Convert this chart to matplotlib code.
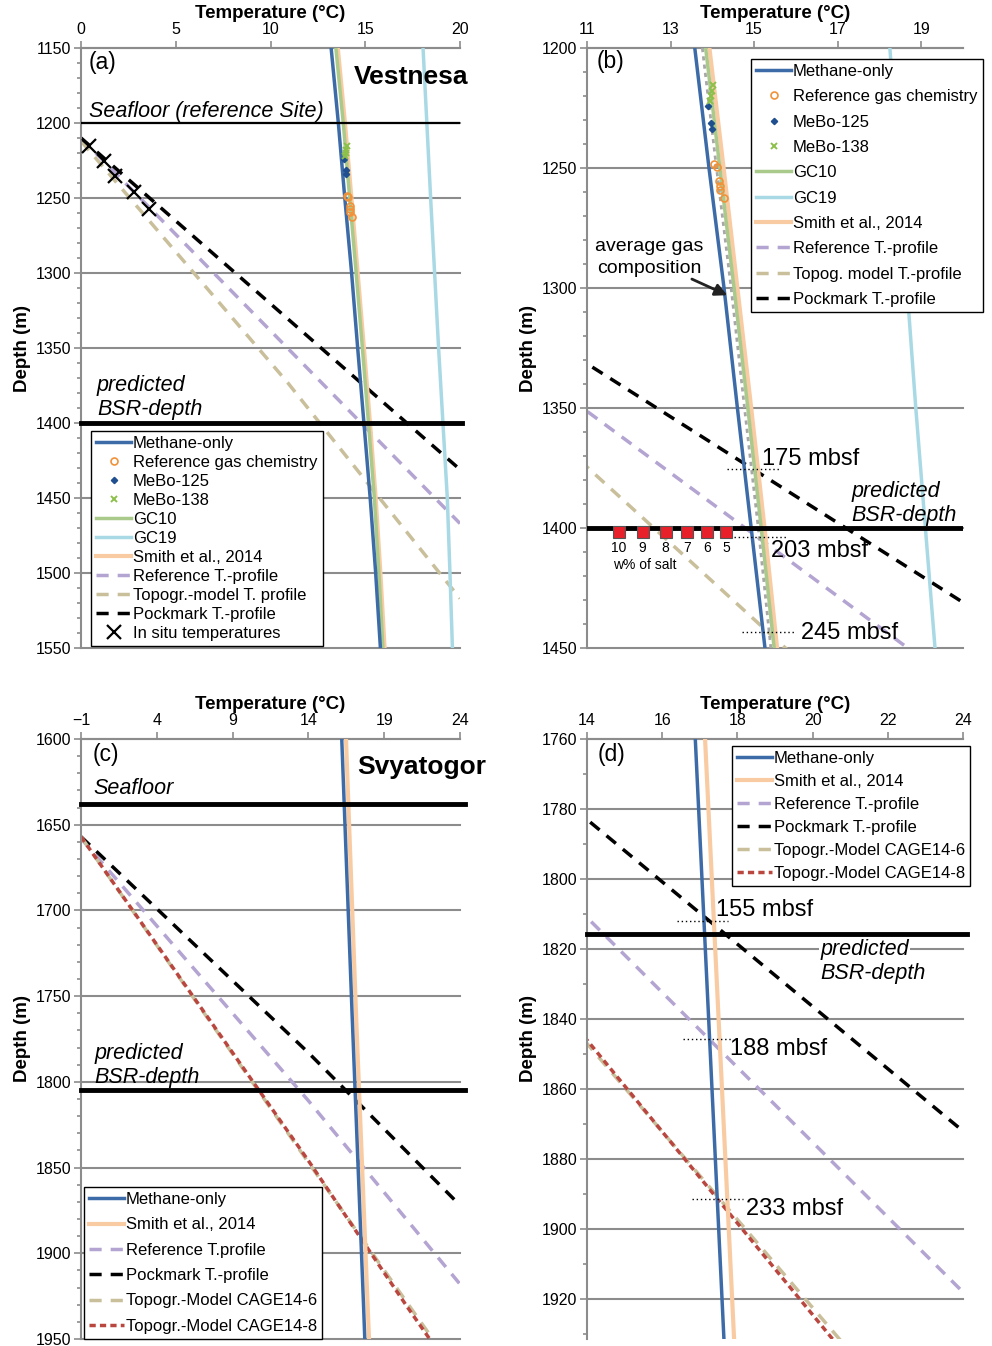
import matplotlib
matplotlib.use('Agg')
import matplotlib.pyplot as plt
from matplotlib.ticker import MultipleLocator

plt.rcParams['font.family'] = ['Liberation Sans', 'DejaVu Sans']

# ---- Vestnesa: hydrate stability curves (depth in m, temperature in degC)
v_depth = [1150, 1200, 1250, 1300, 1350, 1400, 1450, 1500, 1550]
v_methane = [13.2, 13.58, 13.92, 14.28, 14.6, 14.93, 15.26, 15.55, 15.8]
v_gc10 = [13.45, 13.84, 14.18, 14.52, 14.85, 15.17, 15.48, 15.72, 15.93]
v_smith = [13.55, 13.93, 14.27, 14.6, 14.93, 15.25, 15.55, 15.8, 16.02]
v_gc19 = [18.05, 18.25, 18.45, 18.66, 18.87, 19.1, 19.33, 19.47, 19.6]
v_avg_depth = [1200, 1250, 1300, 1350, 1400, 1450]
v_avg = [13.76, 14.1, 14.45, 14.77, 15.1, 15.4]

# Vestnesa temperature profiles
v_ref_depth = [1210, 1467]
v_ref_T = [0, 20]
v_topo_depth = [1212, 1373, 1450, 1517]
v_topo_T = [0, 10.9, 15.75, 20]
v_pock_depth = [1210, 1431]
v_pock_T = [0, 20]

# point data
refgas_T = [14.05, 14.1, 14.17, 14.18, 14.19, 14.29]
refgas_depth = [1248.5, 1249.5, 1255.5, 1257.5, 1259, 1262.5]
mebo125_T = [13.9, 13.98, 14.0]
mebo125_depth = [1224, 1231.3, 1233.8]
mebo138_T = [13.95, 14.0, 14.02, 13.97]
mebo138_depth = [1222, 1218, 1215.5, 1220]
insitu_T = [0.42, 1.2, 1.8, 2.8, 3.6]
insitu_depth = [1215, 1225, 1235, 1246, 1257]

# salinity markers on predicted BSR (panel b)
salt_T = [11.76, 12.33, 12.88, 13.40, 13.88, 14.33]
salt_depth = [1401.5] * 6
salt_labels = ['10', '9', '8', '7', '6', '5']

# mbsf annotations panel b
b_mbsf_labels = ['175 mbsf', '203 mbsf', '245 mbsf']
b_mbsf_depth = [1375.4, 1403.75, 1443.5]

v_seafloor = 1200
v_bsr = 1400

# ---- Svyatogor
s_depth = [1600, 1760, 1931, 1950]
s_methane = [16.2, 16.88, 17.64, 17.72]
s_smith = [16.48, 17.14, 17.91, 18.0]
s_ref_depth = [1658, 1811, 1918]
s_ref_T = [-1, 14, 24]
s_pock_depth = [1657, 1783, 1872]
s_pock_T = [-1, 14, 24]
s_topo6_depth = [1657, 1847, 1931, 1950]
s_topo6_T = [-1, 14, 20.68, 22.2]
s_topo8_depth = [1657, 1846, 1931, 1950]
s_topo8_T = [-1, 14, 20.5, 22.0]
s_seafloor = 1638
s_bsr_c = 1805
s_bsr_d = 1815.7

d_mbsf_labels = ['155 mbsf', '188 mbsf', '233 mbsf']
d_mbsf_depth = [1812, 1845.8, 1891.4]

# colours
C_METH = '#3d6ba8'
C_SMITH = '#f9cba3'
C_GC10 = '#a9ca8a'
C_GC19 = '#a9d9e4'
C_REF = '#b3a4d2'
C_TOPO = '#c9bf9b'
C_RED = '#b9473f'
C_ORANGE = '#f0923a'
C_M125 = '#1f4f8e'
C_M138 = '#8cc04a'
C_GRID = '#8c8c8c'

W, H = 992, 1346
fig = plt.figure(figsize=(W / 100, H / 100), dpi=100)


def make_ax(l, t, r, b):
    return fig.add_axes([l / W, 1 - b / H, (r - l) / W, (b - t) / H])


def style(ax, xlim, ylim, xticks, yticks):
    ax.set_xlim(*xlim)
    ax.set_ylim(ylim[1], ylim[0])
    ax.xaxis.tick_top()
    ax.xaxis.set_label_position('top')
    ax.set_xticks(xticks)
    ax.set_yticks(yticks)
    ax.yaxis.set_minor_locator(MultipleLocator(10))
    for s in ['right', 'bottom']:
        ax.spines[s].set_visible(False)
    for s in ['left', 'top']:
        ax.spines[s].set_color(C_GRID)
        ax.spines[s].set_linewidth(1.5)
    ax.tick_params(colors=C_GRID, labelcolor='black', labelsize=11.5,
                   length=5, width=1.2, pad=2)
    ax.tick_params(axis='x', pad=3)
    ax.tick_params(which='minor', length=3, width=1.2, color=C_GRID)
    for y in yticks:
        ax.axhline(y, color=C_GRID, lw=1.5, zorder=1, clip_on=False)
    ax.set_xlabel('Temperature (°C)', fontweight='bold', fontsize=13.5, labelpad=3)
    ax.set_ylabel('Depth (m)', fontweight='bold', fontsize=13.5, labelpad=3)


def add_legend(ax, handles, l, t, spacing):
    leg = ax.legend(handles=handles, loc='upper left',
                    bbox_to_anchor=(l / W, 1 - t / H), bbox_transform=fig.transFigure,
                    fontsize=12, frameon=True, fancybox=False, edgecolor='black',
                    framealpha=1, borderaxespad=0, borderpad=0.3,
                    labelspacing=spacing, handlelength=2.1, handletextpad=0.12,
                    numpoints=1)
    leg.get_frame().set_linewidth(1.0)
    leg.set_zorder(10)
    return leg


def dotted(ax, x0, x1, y):
    ax.plot([x0, x1], [y, y], color='black', lw=1.0, ls=(0, (1, 2)), zorder=4)


def vestnesa_lines(ax, with_avg=False):
    h = {}
    h['ref'], = ax.plot(v_ref_T, v_ref_depth, color=C_REF, lw=2.5, dashes=(3.5, 2.6),
                        label='Reference T.-profile', zorder=2)
    h['topo'], = ax.plot(v_topo_T, v_topo_depth, color=C_TOPO, lw=2.5, dashes=(3.5, 2.6),
                         label='Topogr.-model T. profile', zorder=2)
    h['pock'], = ax.plot(v_pock_T, v_pock_depth, color='black', lw=2.5, dashes=(3.5, 2.6),
                         label='Pockmark T.-profile', zorder=2)
    h['gc19'], = ax.plot(v_gc19, v_depth, color=C_GC19, lw=2.5, label='GC19', zorder=3)
    h['smith'], = ax.plot(v_smith, v_depth, color=C_SMITH, lw=3, label='Smith et al., 2014', zorder=3)
    h['gc10'], = ax.plot(v_gc10, v_depth, color=C_GC10, lw=2.5, label='GC10', zorder=3)
    if with_avg:
        ax.plot(v_avg, v_avg_depth, color='#a8a8a8', lw=2, dashes=(1.5, 1.5), zorder=3)
    h['meth'], = ax.plot(v_methane, v_depth, color=C_METH, lw=2.5, label='Methane-only', zorder=3)
    h['refgas'], = ax.plot(refgas_T, refgas_depth, 'o', ms=5, mfc='none', mec=C_ORANGE, mew=1.2,
                           label='Reference gas chemistry', zorder=4)
    h['m125'], = ax.plot(mebo125_T, mebo125_depth, 'D', ms=3.2, color=C_M125,
                         label='MeBo-125', zorder=4)
    h['m138'], = ax.plot(mebo138_T, mebo138_depth, 'x', ms=5, mew=1.4, color=C_M138,
                         label='MeBo-138', zorder=4)
    return h


# ===================== (a) =====================
ax = make_ax(81, 48, 460, 648)
style(ax, (0, 20), (1150, 1550), [0, 5, 10, 15, 20], list(range(1150, 1551, 50)))
h = vestnesa_lines(ax)
h['insitu'], = ax.plot(insitu_T, insitu_depth, 'x', ms=10, mew=1.6, color='black',
                       label='In situ temperatures', zorder=5)
ax.axhline(v_seafloor, color='black', lw=1.6, zorder=4)
ax.axhline(v_bsr, xmax=1.005, color='black', lw=3.5, zorder=4, clip_on=False)
ax.text(0.42, 1159.5, '(a)', fontsize=16.5, va='center')
ax.text(14.4, 1169.5, 'Vestnesa', fontsize=19, fontweight='bold', va='center', clip_on=False, zorder=6)
ax.text(0.42, 1192.5, 'Seafloor (reference Site)', fontsize=15.5, style='italic', va='center')
ax.text(0.84, 1374.7, 'predicted', fontsize=15.5, style='italic', va='center')
ax.text(0.84, 1390.7, 'BSR-depth', fontsize=15.5, style='italic', va='center')
add_legend(ax, [h['meth'], h['refgas'], h['m125'], h['m138'], h['gc10'], h['gc19'], h['smith'],
                h['ref'], h['topo'], h['pock'], h['insitu']], 91, 431, 0.24)

# ===================== (b) =====================
ax = make_ax(587, 48, 963, 648)
style(ax, (11, 20), (1200, 1450), [11, 13, 15, 17, 19], list(range(1200, 1451, 50)))
h = vestnesa_lines(ax, with_avg=True)
h['topo'].set_label('Topog. model T.-profile')
ax.axhline(v_bsr, color='black', lw=3.5, zorder=4)
ax.plot(salt_T, salt_depth, 's', ms=9, mfc='#e8202a', mec='#555555', mew=0.8, zorder=6)
for T, lab in zip(salt_T, salt_labels):
    ax.text(T, 1408.2, lab, ha='center', va='center', fontsize=10)
ax.text(12.38, 1415.4, 'w% of salt', ha='center', va='center', fontsize=10)
ax.text(11.24, 1205.8, '(b)', fontsize=16.5, va='center')
ax.text(12.5, 1282.9, 'average gas', fontsize=14, ha='center', va='center')
ax.text(12.5, 1291.7, 'composition', fontsize=14, ha='center', va='center')
ax.annotate('', xy=(14.42, 1303.5), xytext=(13.45, 1295.8),
            arrowprops=dict(arrowstyle='-|>', color='#222222', lw=2, mutation_scale=18))
b_seg = [(14.36, 15.6), (14.52, 15.76), (14.71, 15.95)]
b_txt = [(15.19, 1371.25), (15.4, 1409.6), (16.12, 1443.75)]
for lab, dep, (x0, x1), (tx, ty) in zip(b_mbsf_labels, b_mbsf_depth, b_seg, b_txt):
    dotted(ax, x0, x1, dep)
    ax.text(tx, ty, lab, fontsize=17, va='center', zorder=6)
ax.text(17.33, 1384.6, 'predicted', fontsize=15.5, style='italic', va='center')
ax.text(17.33, 1395.0, 'BSR-depth', fontsize=15.5, style='italic', va='center')
add_legend(ax, [h['meth'], h['refgas'], h['m125'], h['m138'], h['gc10'], h['gc19'], h['smith'],
                h['ref'], h['topo'], h['pock']], 751, 59, 0.62)


# ===================== Svyatogor helper =====================
def svy_lines(ax):
    h = {}
    h['ref'], = ax.plot(s_ref_T, s_ref_depth, color=C_REF, lw=2.5, dashes=(3.5, 2.6),
                        label='Reference T.-profile', zorder=2)
    h['pock'], = ax.plot(s_pock_T, s_pock_depth, color='black', lw=2.5, dashes=(3.5, 2.6),
                         label='Pockmark T.-profile', zorder=2)
    h['t6'], = ax.plot(s_topo6_T, s_topo6_depth, color=C_TOPO, lw=2.5, dashes=(3.5, 2.6),
                       label='Topogr.-Model CAGE14-6', zorder=2)
    h['t8'], = ax.plot(s_topo8_T, s_topo8_depth, color=C_RED, lw=2.5, dashes=(1.8, 1.2),
                       label='Topogr.-Model CAGE14-8', zorder=2)
    h['smith'], = ax.plot(s_smith, s_depth, color=C_SMITH, lw=3, label='Smith et al., 2014', zorder=3)
    h['meth'], = ax.plot(s_methane, s_depth, color=C_METH, lw=2.5, label='Methane-only', zorder=3)
    return h


# ===================== (c) =====================
ax = make_ax(81, 739, 460, 1339)
style(ax, (-1, 24), (1600, 1950), [-1, 4, 9, 14, 19, 24], list(range(1600, 1951, 50)))
h = svy_lines(ax)
h['ref'].set_label('Reference T.profile')
ax.axhline(s_seafloor, xmax=1.013, color='black', lw=3.5, zorder=4, clip_on=False)
ax.axhline(s_bsr_c, xmax=1.013, color='black', lw=3.5, zorder=4, clip_on=False)
ax.text(-0.21, 1608.8, '(c)', fontsize=16.5, va='center')
ax.text(17.2, 1616.3, 'Svyatogor', fontsize=19, fontweight='bold', va='center', clip_on=False, zorder=6)
ax.text(-0.2, 1628.6, 'Seafloor', fontsize=15.5, style='italic', va='center')
ax.text(-0.12, 1783.2, 'predicted', fontsize=15.5, style='italic', va='center')
ax.text(-0.12, 1797.2, 'BSR-depth', fontsize=15.5, style='italic', va='center')
add_legend(ax, [h['meth'], h['smith'], h['ref'], h['pock'], h['t6'], h['t8']], 84, 1187, 0.62)

# ===================== (d) =====================
ax = make_ax(587, 739, 963, 1339)
style(ax, (14, 24), (1760, 1931.4), list(range(14, 25, 2)), list(range(1760, 1921, 20)))
h = svy_lines(ax)
ax.axhline(s_bsr_d, xmax=1.011, color='black', lw=3.5, zorder=4, clip_on=False)
ax.text(14.27, 1764.3, '(d)', fontsize=16.5, va='center')
ax.text(20.2, 1820.0, 'predicted', fontsize=15.5, style='italic', va='center', zorder=5,
        bbox=dict(facecolor='white', edgecolor='none', pad=1))
ax.text(20.2, 1826.9, 'BSR-depth', fontsize=15.5, style='italic', va='center')
d_seg = [(16.39, 17.74), (16.56, 17.89), (16.78, 18.16)]
d_txt = [(17.43, 1808.9), (17.8, 1848.6), (18.23, 1894.3)]
for lab, dep, (x0, x1), (tx, ty) in zip(d_mbsf_labels, d_mbsf_depth, d_seg, d_txt):
    dotted(ax, x0, x1, dep)
    ax.text(tx, ty, lab, fontsize=17, va='center', zorder=6)
add_legend(ax, [h['meth'], h['smith'], h['ref'], h['pock'], h['t6'], h['t8']], 732, 746, 0.48)

fig.savefig('out.png', dpi=100)
